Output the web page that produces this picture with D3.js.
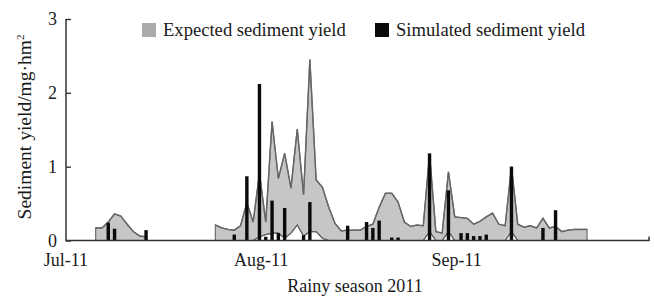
<!DOCTYPE html>
<html>
<head>
<meta charset="utf-8">
<script src="https://cdn.jsdelivr.net/npm/d3@7"></script>
<style>
  body { margin: 0; background: #fff; }
  text { font-family: "Liberation Serif", "Times New Roman", serif; fill: #1a1a1a; }
</style>
</head>
<body>
<div id="chart"></div>
<script>
(function(){
    "use strict";

    // days counted from 1 July 2011
    var seasonStart = new Date(2011, 6, 1);

    // expected sediment yield (band: low / high)
    var expDays = [4,5,6,7,8,9,10,11,12,
        23,24,25,26,27,28,29,30,31,32,33,34,35,36,37,38,39,40,41,42,43,44,45,46,47,48,49,50,51,52,
        53,54,55,56,57,58,59,60,61,62,63,64,65,66,67,68,69,70,71,72,73,74,75,76,77,78,79,80,81,82];
    var expHigh = [0.17,0.17,0.25,0.36,0.33,0.22,0.12,0.06,0.05,
        0.21,0.17,0.15,0.14,0.2,0.51,0.25,0.91,0.25,1.61,0.84,1.18,0.71,1.51,0.62,2.45,0.82,0.72,0.45,0.23,0.13,0.14,0.14,0.14,0.19,0.22,0.45,0.64,0.64,0.52,
        0.25,0.19,0.21,0.2,1.17,0.12,0.1,0.93,0.32,0.31,0.3,0.22,0.26,0.32,0.37,0.22,0.2,1.0,0.22,0.18,0.2,0.17,0.3,0.17,0.19,0.12,0.14,0.15,0.15,0.15];
    var expLow = [0,0,0,0,0,0,0,0,0,
        0,0,0,0,0,0,0,0.05,0.08,0.1,0.1,0.03,0.1,0.21,0.06,0.12,0.12,0.03,0,0,0,0,0,0,0,0,0,0,0,0,
        0,0,0,0,0.12,0,0,0.12,0,0,0,0,0,0,0,0,0,0.12,0,0,0,0,0,0,0,0,0,0,0,0];

    // simulated sediment yield
    var simDays = [6,7,12,26,28,30,31,32,33,34,37,38,44,47,48,49,51,52,57,60,62,63,64,65,66,70,75,77];
    var simVals = [0.24,0.16,0.14,0.08,0.87,2.12,0.05,0.54,0.1,0.44,0.07,0.52,0.2,0.25,0.17,0.27,0.04,0.04,1.18,0.68,0.1,0.1,0.06,0.06,0.08,1.0,0.17,0.41];

    var xTicks = ["2011-07-01","2011-08-01","2011-09-01"];
    var yTicks = [0,1,2,3];

    var legendNames = ["Expected sediment yield","Simulated sediment yield"];

    var W = 654, H = 296;
    var left = 66, right = 649, top = 19, bottom = 240.5;

    function dayDate(d) { return d3.timeDay.offset(seasonStart, d); }

    var x = d3.scaleTime()
        .domain([new Date(2011,5,30,7), new Date(2011,8,30,20)])
        .range([left, right]);
    var y = d3.scaleLinear().domain([0,3]).range([bottom, top]);

    var svg = d3.select("#chart").append("svg")
        .attr("width", W).attr("height", H);

    // split the band where days are not consecutive
    var rows = expDays.map(function(d,i){ return {day:d, hi:expHigh[i], lo:expLow[i]}; });
    var segs = [];
    rows.forEach(function(r,i){
        if (i === 0 || r.day - rows[i-1].day > 1) segs.push([]);
        segs[segs.length-1].push(r);
    });

    var area = d3.area()
        .x(function(d){ return x(dayDate(d.day)); })
        .y0(function(d){ return y(d.lo); })
        .y1(function(d){ return y(d.hi); });
    var hiLine = d3.line()
        .x(function(d){ return x(dayDate(d.day)); })
        .y(function(d){ return y(d.hi); });
    var loLine = d3.line()
        .x(function(d){ return x(dayDate(d.day)); })
        .y(function(d){ return y(d.lo); });

    var band = svg.append("g");
    band.selectAll(".band").data(segs).enter().append("path")
        .attr("d", area).attr("fill", "#c6c6c6").attr("stroke", "#6e6e6e").attr("stroke-width", 1.2);
    band.selectAll(".hi").data(segs).enter().append("path")
        .attr("d", hiLine).attr("fill", "none").attr("stroke", "#666").attr("stroke-width", 1.4);
    band.selectAll(".lo").data(segs).enter().append("path")
        .attr("d", loLine).attr("fill", "none").attr("stroke", "#666").attr("stroke-width", 1.2);

    // bars
    svg.append("g").selectAll("rect")
        .data(simDays.map(function(d,i){ return {day:d, v:simVals[i]}; }))
        .enter().append("rect")
        .attr("x", function(d){ return x(dayDate(d.day)) - 1.7; })
        .attr("width", 3.4)
        .attr("y", function(d){ return y(d.v); })
        .attr("height", function(d){ return bottom - y(d.v); })
        .attr("fill", "#0a0a0a");

    // axes
    var gy = svg.append("g")
        .attr("transform", "translate(" + left + ",0)")
        .call(d3.axisLeft(y).tickValues(yTicks).tickSize(-5).tickPadding(9).tickFormat(d3.format("d")));
    gy.select(".domain").remove();
    gy.selectAll("line").attr("stroke", "#333").attr("stroke-width", 1.4);
    gy.selectAll("text").style("font-size", "18px").attr("fill", "#1a1a1a");

    var gx = svg.append("g")
        .attr("transform", "translate(0," + bottom + ")")
        .call(d3.axisBottom(x).tickValues(xTicks.map(function(s){ return d3.timeParse("%Y-%m-%d")(s); }))
            .tickSize(0).tickPadding(13).tickFormat(d3.timeFormat("%b-%y")));
    gx.select(".domain").remove();
    gx.selectAll("text").style("font-size", "18px").attr("fill", "#1a1a1a").attr("dx", -5);

    svg.append("path")
        .attr("d", "M" + left + "," + top + "V" + bottom + "H" + right + "V" + (bottom - 4))
        .attr("fill", "none").attr("stroke", "#333").attr("stroke-width", 1.5);

    // titles
    svg.append("text")
        .attr("x", 355).attr("y", 292)
        .attr("text-anchor", "middle").style("font-size", "18px")
        .text("Rainy season 2011");

    var yt = svg.append("text")
        .attr("transform", "translate(31,127) rotate(-90)")
        .attr("text-anchor", "middle").style("font-size", "19.5px");
    yt.append("tspan").text("Sediment yield/mg·hm");
    yt.append("tspan").attr("dy", -7).style("font-size", "11px").text("2");

    // legend
    var lg = svg.append("g");
    var legendX = [142, 375];
    var legendFill = ["#ababab", "#0a0a0a"];
    legendNames.forEach(function(name, i){
        lg.append("rect").attr("x", legendX[i]).attr("y", 23).attr("width", 14).attr("height", 14)
            .attr("fill", legendFill[i]);
        lg.append("text").attr("x", legendX[i] + 21).attr("y", 36)
            .style("font-size", "18.6px").text(name);
    });
})();
</script>
</body>
</html>
